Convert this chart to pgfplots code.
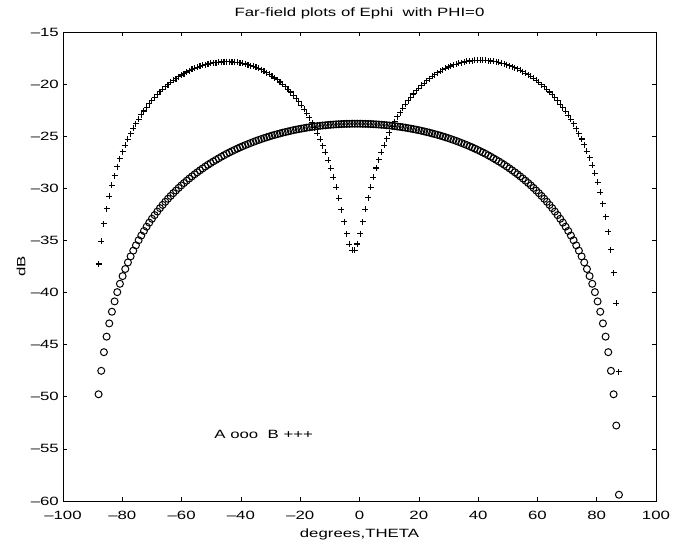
\documentclass[border=0pt]{standalone}
\usepackage{fontspec}
\setmainfont{Liberation Sans}[FakeStretch=1.4]
\usepackage{pgfplots}
\usepackage{pgfplotstable}
\pgfplotsset{compat=1.18}
\pgfplotstableread{
t A B
-88.0 -49.76 -37.26
-87.1 -47.51 -35.10
-86.2 -45.72 -33.39
-85.3 -44.23 -31.96
-84.4 -42.96 -30.75
-83.5 -41.84 -29.69
-82.6 -40.85 -28.77
-81.7 -39.96 -27.92
-80.8 -39.16 -27.17
-79.9 -38.42 -26.49
-79.0 -37.74 -25.86
-78.1 -37.11 -25.28
-77.2 -36.53 -24.75
-76.3 -35.98 -24.25
-75.4 -35.47 -23.79
-74.5 -34.98 -23.36
-73.6 -34.53 -22.95
-72.7 -34.09 -22.58
-71.8 -33.68 -22.23
-70.9 -33.29 -21.90
-70.0 -32.92 -21.58
-69.1 -32.57 -21.29
-68.2 -32.23 -21.01
-67.3 -31.90 -20.75
-66.4 -31.59 -20.49
-65.5 -31.29 -20.26
-64.6 -31.00 -20.05
-63.7 -30.73 -19.84
-62.8 -30.46 -19.65
-61.9 -30.21 -19.47
-61.0 -29.96 -19.29
-60.1 -29.72 -19.13
-59.2 -29.49 -18.99
-58.3 -29.27 -18.84
-57.4 -29.06 -18.72
-56.5 -28.85 -18.59
-55.6 -28.65 -18.49
-54.7 -28.46 -18.38
-53.8 -28.27 -18.29
-52.9 -28.09 -18.21
-52.0 -27.91 -18.15
-51.1 -27.74 -18.07
-50.2 -27.58 -18.02
-49.3 -27.42 -17.97
-48.4 -27.27 -17.94
-47.5 -27.12 -17.90
-46.6 -26.97 -17.88
-45.7 -26.83 -17.87
-44.8 -26.69 -17.86
-43.9 -26.56 -17.87
-43.0 -26.43 -17.88
-42.1 -26.31 -17.90
-41.2 -26.19 -17.92
-40.3 -26.07 -17.97
-39.4 -25.96 -18.02
-38.5 -25.85 -18.07
-37.6 -25.75 -18.15
-36.7 -25.65 -18.22
-35.8 -25.55 -18.31
-34.9 -25.45 -18.40
-34.0 -25.36 -18.50
-33.1 -25.27 -18.63
-32.2 -25.18 -18.76
-31.3 -25.10 -18.91
-30.4 -25.02 -19.07
-29.5 -24.94 -19.23
-28.6 -24.87 -19.41
-27.7 -24.80 -19.60
-26.8 -24.73 -19.80
-25.9 -24.66 -20.02
-25.0 -24.60 -20.25
-24.1 -24.54 -20.50
-23.2 -24.48 -20.76
-22.3 -24.42 -21.05
-21.4 -24.37 -21.35
-20.5 -24.32 -21.68
-19.6 -24.27 -22.03
-18.7 -24.23 -22.40
-17.8 -24.18 -22.80
-16.9 -24.14 -23.22
-16.0 -24.10 -23.69
-15.1 -24.07 -24.17
-14.2 -24.03 -24.71
-13.3 -24.00 -25.28
-12.4 -23.97 -25.90
-11.5 -23.95 -26.56
-10.6 -23.92 -27.30
-9.7 -23.90 -28.09
-8.8 -23.88 -28.96
-7.9 -23.86 -29.91
-7.0 -23.85 -30.95
-6.1 -23.83 -32.05
-5.2 -23.82 -33.22
-4.3 -23.81 -34.36
-3.4 -23.81 -35.35
-2.5 -23.80 -35.93
-1.6 -23.80 -35.93
-0.7 -23.80 -35.34
0.2 -23.80 -34.35
1.1 -23.81 -33.21
2.0 -23.81 -32.03
2.9 -23.82 -30.92
3.8 -23.83 -29.88
4.7 -23.85 -28.93
5.6 -23.86 -28.05
6.5 -23.88 -27.26
7.4 -23.90 -26.52
8.3 -23.92 -25.85
9.2 -23.95 -25.22
10.1 -23.97 -24.65
11.0 -24.00 -24.11
11.9 -24.03 -23.62
12.8 -24.07 -23.15
13.7 -24.10 -22.73
14.6 -24.14 -22.32
15.5 -24.18 -21.94
16.4 -24.23 -21.58
17.3 -24.27 -21.26
18.2 -24.32 -20.95
19.1 -24.37 -20.65
20.0 -24.42 -20.39
20.9 -24.48 -20.13
21.8 -24.54 -19.90
22.7 -24.60 -19.68
23.6 -24.66 -19.47
24.5 -24.73 -19.27
25.4 -24.80 -19.09
26.3 -24.87 -18.92
27.2 -24.94 -18.76
28.1 -25.02 -18.63
29.0 -25.10 -18.48
29.9 -25.18 -18.36
30.8 -25.27 -18.26
31.7 -25.36 -18.15
32.6 -25.45 -18.08
33.5 -25.55 -18.01
34.4 -25.65 -17.94
35.3 -25.75 -17.88
36.2 -25.85 -17.82
37.1 -25.96 -17.78
38.0 -26.07 -17.76
38.9 -26.19 -17.73
39.8 -26.31 -17.72
40.7 -26.43 -17.71
41.6 -26.56 -17.72
42.5 -26.69 -17.73
43.4 -26.83 -17.74
44.3 -26.97 -17.78
45.2 -27.12 -17.81
46.1 -27.27 -17.86
47.0 -27.42 -17.92
47.9 -27.58 -17.98
48.8 -27.74 -18.05
49.7 -27.91 -18.13
50.6 -28.09 -18.22
51.5 -28.27 -18.32
52.4 -28.46 -18.42
53.3 -28.65 -18.54
54.2 -28.85 -18.66
55.1 -29.06 -18.81
56.0 -29.27 -18.94
56.9 -29.49 -19.11
57.8 -29.72 -19.27
58.7 -29.96 -19.45
59.6 -30.21 -19.64
60.5 -30.46 -19.84
61.4 -30.73 -20.05
62.3 -31.00 -20.27
63.2 -31.29 -20.51
64.1 -31.59 -20.76
65.0 -31.90 -21.04
65.9 -32.23 -21.31
66.8 -32.57 -21.61
67.7 -32.92 -21.92
68.6 -33.29 -22.27
69.5 -33.68 -22.62
70.4 -34.09 -22.99
71.3 -34.53 -23.38
72.2 -34.98 -23.81
73.1 -35.47 -24.27
74.0 -35.98 -24.75
74.9 -36.53 -25.27
75.8 -37.11 -25.83
76.7 -37.74 -26.43
77.6 -38.42 -27.08
78.5 -39.16 -27.79
79.4 -39.96 -28.56
80.3 -40.85 -29.43
81.2 -41.84 -30.40
82.1 -42.96 -31.48
83.0 -44.23 -32.71
83.9 -45.72 -34.16
84.8 -47.51 -35.90
85.7 -49.76 -38.10
86.6 -52.76 -41.03
87.5 -59.40 -47.60
}\farfield
\begin{document}
\fontsize{12bp}{14bp}\selectfont
\begin{tikzpicture}
\useasboundingbox (-63bp,-43bp) rectangle (618bp,501bp);
\begin{axis}[
  at={(0,0)}, anchor=south west,
  scale only axis, width=593bp, height=469bp,
  xmin=-100, xmax=100, ymin=-60, ymax=-15,
  xtick={-100,-80,...,100}, ytick={-60,-55,...,-15},
  xticklabels={–100,–80,–60,–40,–20,0,20,40,60,80,100},
  yticklabels={–60,–55,–50,–45,–40,–35,–30,–25,–20,–15},
  tick align=inside, major tick length=4bp,
  tick style={black, line width=0.6pt},
  axis line style={black, line width=0.8pt},
  xticklabel style={anchor=base, yshift=-18bp},
  yticklabel style={anchor=east, xshift=0bp},
  title={Far-field plots of Ephi\ \ with PHI=0},
  title style={at={(axis description cs:0.5,1)}, anchor=base, yshift=10bp},
  xlabel={degrees,THETA},
  xlabel style={at={(axis description cs:0.5,0)}, anchor=base, yshift=-36bp},
  ylabel={dB},
  ylabel style={at={(axis description cs:0,0.5)}, anchor=center, rotate=0, xshift=0bp, yshift=42bp},
]
\addplot[only marks, mark=o, mark size=3.5bp, black, line width=1pt] table[x=t, y=A] {\farfield};
\addplot[only marks, mark=+, mark size=3bp, black, line width=1.1pt] table[x=t, y=B] {\farfield};
\node[anchor=west, inner sep=0pt] at (axis cs:-49,-53.6) {A ooo\ \ B +++};
\end{axis}
\end{tikzpicture}
\end{document}
